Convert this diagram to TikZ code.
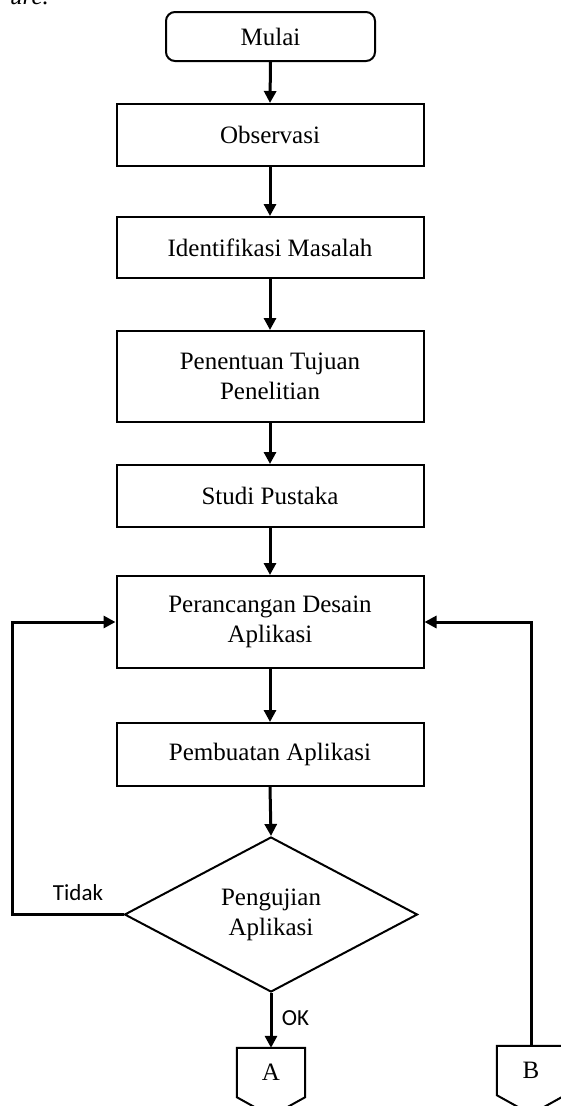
\documentclass[tikz,border=0pt]{standalone}
\usepackage{fontspec}
\setmainfont{Liberation Serif}
\newfontfamily\labelfont{Carlito}
\usetikzlibrary{arrows.meta,shapes.geometric,calc}

\tikzset{
  boxtext/.style={font=\fontsize{25}{30}\selectfont, align=center},
  stepbox/.style={boxtext, draw, line width=2pt, minimum width=307pt, inner sep=0pt},
  startbox/.style={boxtext, draw, line width=2pt, rounded corners=9pt, minimum width=209pt, minimum height=49pt, inner sep=0pt},
  decision/.style={boxtext, draw, diamond, line width=2pt, minimum width=293pt, minimum height=155pt, inner sep=0pt},
  pagetext/.style={boxtext, minimum width=68pt, minimum height=49pt, inner sep=0pt},
  flow/.style={line width=3pt, -{Triangle[length=12pt,width=12pt]}},
  branch/.style={font=\labelfont\fontsize{23}{26}\selectfont}
}

\begin{document}
\begin{tikzpicture}[x=1pt, y=-1pt]
  \useasboundingbox (0,0) rectangle (560,1106);

  % caption fragment above the chart
  \node[anchor=base west, inner sep=0pt, font=\itshape\fontsize{25}{30}\selectfont] (cap) at (10,4) {ure.};

  % main chain
  \node[startbox] (mulai) at (270.5,36.5) {Mulai};
  \node[stepbox, minimum height=62pt] (obs) at (270,135) {Observasi};
  \node[stepbox, minimum height=61pt] (idm) at (270,247.5) {Identifikasi Masalah};
  \node[stepbox, minimum height=91pt] (tuj) at (270,376.5) {Penentuan Tujuan\\Penelitian};
  \node[stepbox, minimum height=62pt] (stu) at (270,496) {Studi Pustaka};
  \node[stepbox, minimum height=92pt] (des) at (270,622) {Perancangan Desain\\Aplikasi};
  \node[stepbox, minimum height=63pt] (pem) at (270,754.5) {Pembuatan Aplikasi};
  \node[decision] (uji) at (271,914.5) {Pengujian\\Aplikasi};

  % off-page connectors
  \node[pagetext] (A) at (271,1072.5) {A};
  \node[pagetext] (B) at (531,1070.5) {B};
  \foreach \p in {A,B}{
    \draw[line width=2pt] (\p.north west) -- (\p.north east) -- (\p.south east)
      -- ($(\p.south)+(0,19)$) -- (\p.south west) -- cycle;
  }

  % straight flow
  \draw[flow] (mulai.south) -- (obs.north);
  \draw[flow] (obs.south) -- (idm.north);
  \draw[flow] (idm.south) -- (tuj.north);
  \draw[flow] (tuj.south) -- (stu.north);
  \draw[flow] (stu.south) -- (des.north);
  \draw[flow] (des.south) -- (pem.north);
  \draw[flow] (pem.south) -- (uji.north);
  \draw[flow] (uji.south) -- node[branch, right=6pt, pos=0.45] {OK} (A.north);

  % loop back on failed test
  \coordinate (tl) at (12,914.5);
  \coordinate (tu) at (12,622);
  \draw[flow] (uji.west) -- (tl) -- (tu) -- (des.west);
  \node[branch] (tidak) at (78,893) {Tidak};

  % return from connector B
  \coordinate (bu) at (531,622);
  \draw[flow] (B.north) -- (bu) -- (des.east);
\end{tikzpicture}
\end{document}
